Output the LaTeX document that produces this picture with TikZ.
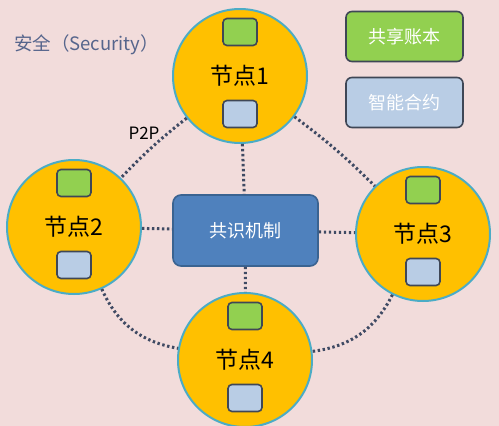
\documentclass[tikz,border=0pt]{standalone}
\usepackage{fontspec}
\setmainfont{Noto Sans CJK SC}
\usepackage{tikz}
\usetikzlibrary{calc}
\definecolor{bg}{HTML}{F2DCDB}
\definecolor{nodefill}{HTML}{FFC000}
\definecolor{noderim}{HTML}{4BACC6}
\definecolor{ledgergr}{HTML}{92D050}
\definecolor{contractbl}{HTML}{B9CDE5}
\definecolor{boxrim}{HTML}{3F4756}
\definecolor{mechfill}{HTML}{4F81BD}
\definecolor{mechrim}{HTML}{3A6391}
\definecolor{link}{HTML}{3F4A63}
\definecolor{titlecol}{HTML}{56658C}

\begin{document}
\begin{tikzpicture}[x=1pt, y=-1pt,
  peer/.style={circle, fill=nodefill, draw=noderim, line width=2pt, minimum size=134pt, inner sep=0pt, font=\fontsize{23}{23}\selectfont},
  ledger/.style={rectangle, rounded corners=4pt, fill=ledgergr, draw=boxrim, line width=1.6pt, minimum width=34pt, minimum height=27pt, inner sep=0pt},
  contract/.style={ledger, fill=contractbl},
  legend/.style={rectangle, rounded corners=6pt, draw=boxrim, line width=1.6pt, minimum width=117pt, minimum height=50pt, text=white, font=\fontsize{18}{18}\selectfont},
  p2p/.style={link, line width=3pt, dash pattern=on 2.4pt off 2.6pt}]
\fill[bg] (0,0) rectangle (499,426);
\useasboundingbox (0,0) rectangle (499,426);

\node[text=titlecol, font=\fontsize{18.5}{18.5}\selectfont, anchor=west, inner sep=0pt] (title) at (14,45) {安全（Security）};

\node[legend, fill=ledgergr] (leg1) at (404.5,36.5) {共享账本};
\node[legend, fill=contractbl] (leg2) at (404.5,102.5) {智能合约};

\node[rectangle, rounded corners=8pt, fill=mechfill, draw=mechrim, line width=1.6pt, minimum width=145pt, minimum height=71pt, text=white, font=\fontsize{18}{18}\selectfont] (mech) at (245.5,230.5) {共识机制};

\node[peer] (n1) at (240,76) {节点1};
\node[peer] (n2) at (74,227) {节点2};
\node[peer] (n3) at (423,234) {节点3};
\node[peer] (n4) at (245,360) {节点4};

\foreach \i in {1,...,4}{
\node[ledger] (g\i) at ([yshift=44pt]n\i.center) {};
\node[contract] (b\i) at ([yshift=-38pt]n\i.center) {};
}

\draw[p2p] (n1) to[bend right=4] (n2);
\node[black, font=\fontsize{17}{17}\selectfont, inner sep=0pt] (lbl) at (144,133) {P2P};
\draw[p2p] (n1) to[bend left=4] (n3);
\draw[p2p] (n1) -- (mech);
\draw[p2p] (n2) -- (mech);
\draw[p2p] (mech) -- (n3);
\draw[p2p] (mech) -- (n4);
\draw[p2p] (n2) to[bend right=28] (n4);
\draw[p2p] (n3) to[bend left=28] (n4);
\end{tikzpicture}
\end{document}
